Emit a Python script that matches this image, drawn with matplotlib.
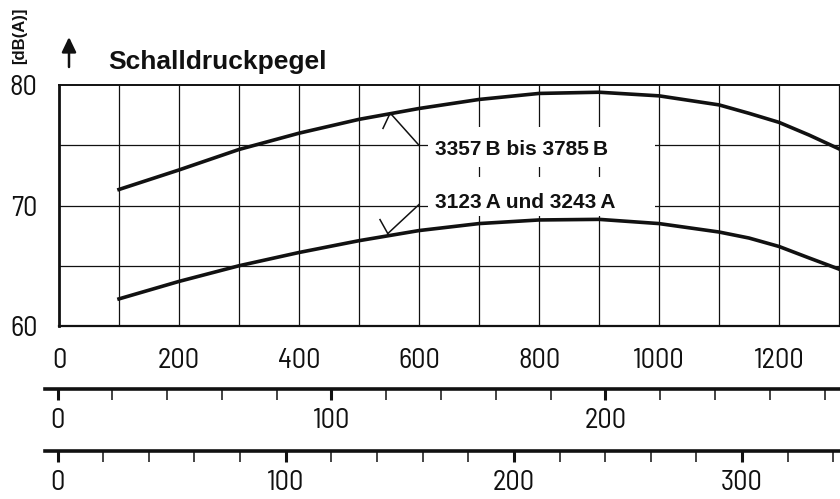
import matplotlib
matplotlib.use("Agg")
import matplotlib.pyplot as plt
from matplotlib.patches import Rectangle, FancyArrowPatch
from matplotlib.ticker import FixedLocator

drehzahl = [100, 200, 300, 400, 500, 600, 700, 800, 900, 1000, 1100, 1150, 1200, 1250, 1300]
pegel_b = [71.33, 72.95, 74.65, 76.0, 77.15, 78.05, 78.8, 79.3, 79.4, 79.1, 78.35, 77.65, 76.9, 75.85, 74.7]
pegel_a = [62.25, 63.7, 65.0, 66.1, 67.08, 67.92, 68.5, 68.8, 68.85, 68.5, 67.8, 67.3, 66.6, 65.65, 64.72]

labels = ["3357\u2009B bis 3785\u2009B", "3123\u2009A und 3243\u2009A"]
label_x = [627, 627]
label_y = [74.17, 69.83]
# weisse Felder hinter den Beschriftungen (x0, x1, y0, y1)
boxes = [(615, 993, 73.17, 76.5), (615, 993, 69.17, 72.33)]
# Hinweislinien: Ende, Spitze, Haken
leader_b = ([600, 552, 540], [75.0, 77.67, 76.4])
leader_a = ([600, 548, 535], [70.08, 67.67, 68.83])

x_grid = list(range(100, 1400, 100))
y_grid = [65, 70, 75]
x_ticks = [0, 200, 400, 600, 800, 1000, 1200]
y_ticks = [60, 70, 80]

skala1_major = [0, 100, 200]
skala1_minor = list(range(0, 300, 20))
skala2_major = [0, 100, 200, 300]
skala2_minor = list(range(0, 360, 20))

num_font = ["Barlow Semi Condensed", "Roboto Condensed", "DejaVu Sans"]
txt_font = ["Liberation Sans", "DejaVu Sans"]
ink = "#111111"
num_size = 20.5

W, H = 840, 499
fig = plt.figure(figsize=(W / 100, H / 100), dpi=100)

ax = fig.add_axes([59 / W, (H - 326) / H, (W - 59) / W, (326 - 85) / H])
ax.set_xlim(0, (W - 59) / 0.6)
ax.set_ylim(60, 80)

ax.vlines(x_grid, 60, 80, color=ink, lw=0.9, zorder=0.5)
ax.hlines(y_grid, 0, 1400, color=ink, lw=0.9, zorder=0.5)

for x0, x1, y0, y1 in boxes:
    ax.add_patch(Rectangle((x0, y0), x1 - x0, y1 - y0, facecolor="white",
                           edgecolor="none", zorder=1))

ax.plot(drehzahl, pegel_b, color=ink, lw=2.6, zorder=3)
ax.plot(drehzahl, pegel_a, color=ink, lw=2.6, zorder=3)

for lx, ly in (leader_b, leader_a):
    ax.plot(lx[:2], ly[:2], color=ink, lw=1.1, zorder=3)
    ax.plot(lx[1:], ly[1:], color=ink, lw=1.1, zorder=3)

for t, x, y in zip(labels, label_x, label_y):
    ax.text(x, y, t, family=txt_font, fontsize=15, fontweight="bold",
            color=ink, va="baseline", ha="left", zorder=4)

ax.spines["left"].set_linewidth(2.0)
ax.spines["bottom"].set_linewidth(1.6)
ax.spines["top"].set_linewidth(1.4)
ax.spines["right"].set_visible(False)
for s in ax.spines.values():
    s.set_color(ink)

ax.xaxis.set_major_locator(FixedLocator(x_ticks))
ax.xaxis.set_minor_locator(FixedLocator([0]))
ax.yaxis.set_major_locator(FixedLocator(y_ticks))
ax.yaxis.set_minor_locator(FixedLocator([60]))
ax.tick_params(which="major", length=0, pad=15.5, labelsize=num_size, colors=ink)
ax.tick_params(axis="x", which="minor", length=10, width=2.0, direction="out", color=ink)
ax.tick_params(axis="y", which="minor", length=11.5, width=1.5, direction="out", color=ink)
for lab in ax.get_xticklabels() + ax.get_yticklabels():
    lab.set_family(num_font)

# zwei Zusatzskalen unter der Drehzahlachse
def skala(y_px, x_max, major, minor):
    px_per = (W - 57.5) / x_max
    lo = -12.5 / px_per
    sx = fig.add_axes([45 / W, (H - y_px) / H, (W - 45) / W, 0.001])
    sx.set_xlim(lo, x_max)
    sx.patch.set_visible(False)
    for side in ["top", "left", "right"]:
        sx.spines[side].set_visible(False)
    sx.spines["bottom"].set_linewidth(2.6)
    sx.spines["bottom"].set_color(ink)
    sx.set_yticks([])
    sx.xaxis.set_major_locator(FixedLocator(major))
    sx.xaxis.set_minor_locator(FixedLocator(minor))
    sx.tick_params(axis="x", which="major", length=8, width=2.2, pad=6,
                   labelsize=num_size, colors=ink, direction="out")
    sx.tick_params(axis="x", which="minor", length=8, width=1.1, color=ink,
                   direction="out")
    for lab in sx.get_xticklabels():
        lab.set_family(num_font)
    return sx

skala(388.5, 285.6, skala1_major, skala1_minor)
skala(450.7, 342.9, skala2_major, skala2_minor)

fig.text(108 / W, 1 - 69.3 / H, "Schalldruckpegel", family=txt_font,
         fontsize=19, fontweight="bold", color=ink, va="baseline", ha="left")
fig.text(20 / W, 1 - 36 / H, "[dB(A)]", family=txt_font, fontsize=12,
         fontweight="bold", color=ink, rotation=90, va="center", ha="center")
fig.add_artist(FancyArrowPatch(
    (69 / W, 1 - 67 / H), (69 / W, 1 - 37 / H), transform=fig.transFigure,
    arrowstyle="-|>,head_width=0.36,head_length=0.75", mutation_scale=12,
    lw=1.8, color=ink, shrinkA=0, shrinkB=0))

fig.savefig("out.png", dpi=100)
